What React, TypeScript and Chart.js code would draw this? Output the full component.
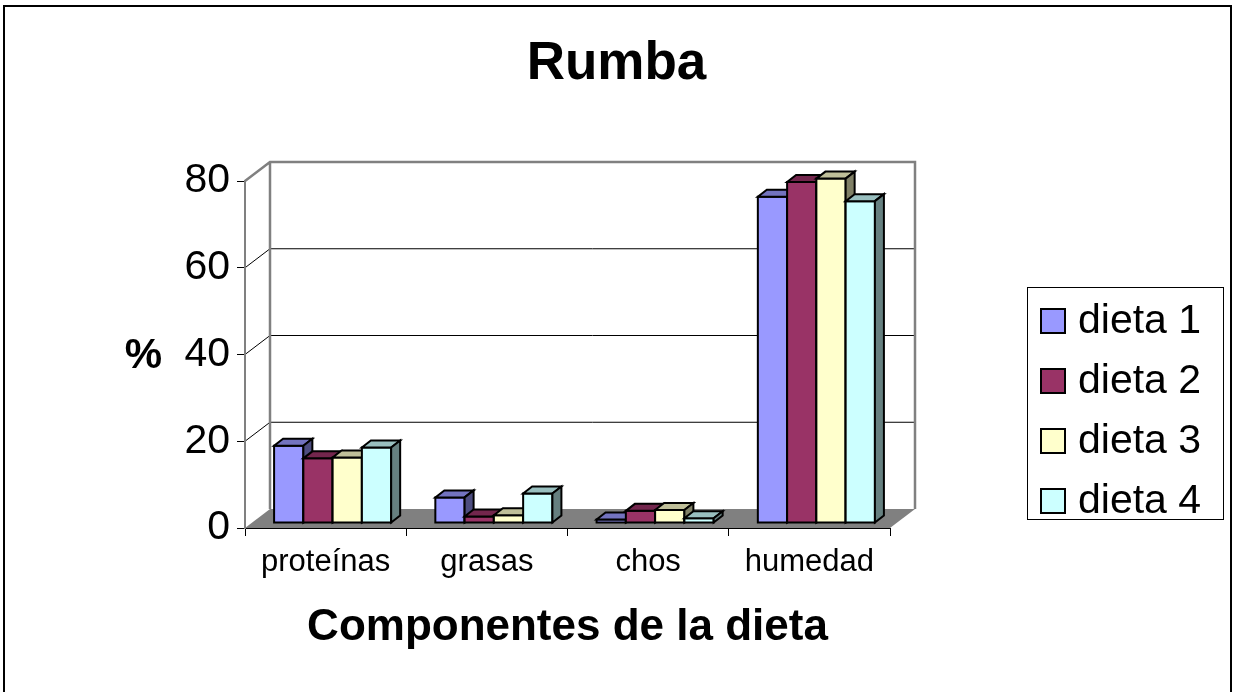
import React, { useEffect, useRef } from 'react';
import { Chart, registerables } from 'chart.js';

Chart.register(...registerables);

// ---- data ----
const categories = ['proteínas', 'grasas', 'chos', 'humedad'];
const seriesNames = ['dieta 1', 'dieta 2', 'dieta 3', 'dieta 4'];
const dieta1 = [17.8, 5.9, 0.8, 75.2];
const dieta2 = [14.9, 1.5, 2.8, 78.6];
const dieta3 = [15.1, 1.8, 3.0, 79.4];
const dieta4 = [17.4, 6.8, 1.1, 74.2];
const yTicks = [0, 20, 40, 60, 80];
const seriesColors = ['#9999FF', '#993366', '#FFFFCC', '#CCFFFF'];

// ---- layout / style ----
const W = 1233;
const H = 692;
const FONT = '"Liberation Sans", Arial, Helvetica, sans-serif';
const WALL_DX = 25;
const WALL_DY = -19;
const BAR_DX = 7;
const BAR_DY = -5;
const DEPTH_DX = 9;
const DEPTH_DY = -7;

function shade(hex: string, f: number) {
  const n = parseInt(hex.slice(1), 16);
  const r = Math.round(((n >> 16) & 255) * f);
  const g = Math.round(((n >> 8) & 255) * f);
  const b = Math.round((n & 255) * f);
  return `rgb(${r},${g},${b})`;
}

const wallsPlugin = {
  id: 'walls3d',
  beforeDraw(chart: any) {
    const { ctx, chartArea: a, scales } = chart;
    const y = scales.y;
    const L = a.left;
    const R = a.right;
    const y0 = y.getPixelForValue(yTicks[0]);
    const yTop = y.getPixelForValue(yTicks[yTicks.length - 1]);
    ctx.save();
    // floor
    ctx.fillStyle = '#808080';
    ctx.beginPath();
    ctx.moveTo(L, y0);
    ctx.lineTo(R, y0);
    ctx.lineTo(R + WALL_DX, y0 + WALL_DY);
    ctx.lineTo(L + WALL_DX, y0 + WALL_DY);
    ctx.closePath();
    ctx.fill();
    // gridlines on side & back walls
    ctx.strokeStyle = '#000';
    ctx.lineWidth = 1;
    for (let k = 1; k < yTicks.length - 1; k++) {
      const py = y.getPixelForValue(yTicks[k]);
      ctx.beginPath();
      ctx.moveTo(L, py);
      ctx.lineTo(L + WALL_DX, py + WALL_DY);
      ctx.lineTo(R + WALL_DX, py + WALL_DY);
      ctx.stroke();
    }
    // wall edges
    ctx.strokeStyle = '#808080';
    ctx.lineWidth = 2.5;
    ctx.beginPath();
    ctx.moveTo(L, yTop);
    ctx.lineTo(L + WALL_DX, yTop + WALL_DY);
    ctx.lineTo(R + WALL_DX, yTop + WALL_DY);
    ctx.lineTo(R + WALL_DX, y0 + WALL_DY);
    ctx.moveTo(L + WALL_DX, yTop + WALL_DY);
    ctx.lineTo(L + WALL_DX, y0 + WALL_DY);
    ctx.stroke();
    ctx.restore();
  },
};

const barsPlugin = {
  id: 'bars3d',
  beforeDatasetsDraw(chart: any) {
    const ctx = chart.ctx;
    ctx.save();
    ctx.translate(BAR_DX, BAR_DY);
    ctx.lineWidth = 2;
    ctx.strokeStyle = '#000';
    ctx.lineJoin = 'miter';
    const n = chart.data.labels.length;
    for (let j = 0; j < n; j++) {
      chart.data.datasets.forEach((ds: any, i: number) => {
        const meta = chart.getDatasetMeta(i);
        const el = meta.data[j];
        if (!el) return;
        const { x, y, base, width } = el.getProps(['x', 'y', 'base', 'width'], true);
        const L = x - width / 2;
        const R = x + width / 2;
        const col = ds.backgroundColor;
        // front
        ctx.fillStyle = col;
        ctx.beginPath();
        ctx.rect(L, y, R - L, base - y);
        ctx.fill();
        ctx.stroke();
        // top
        ctx.fillStyle = shade(col, 0.75);
        ctx.beginPath();
        ctx.moveTo(L, y);
        ctx.lineTo(R, y);
        ctx.lineTo(R + DEPTH_DX, y + DEPTH_DY);
        ctx.lineTo(L + DEPTH_DX, y + DEPTH_DY);
        ctx.closePath();
        ctx.fill();
        ctx.stroke();
        // side
        ctx.fillStyle = shade(col, 0.5);
        ctx.beginPath();
        ctx.moveTo(R, y);
        ctx.lineTo(R + DEPTH_DX, y + DEPTH_DY);
        ctx.lineTo(R + DEPTH_DX, base + DEPTH_DY);
        ctx.lineTo(R, base);
        ctx.closePath();
        ctx.fill();
        ctx.stroke();
      });
    }
    ctx.restore();
    return false;
  },
};

const overlayPlugin = {
  id: 'overlay',
  afterDraw(chart: any) {
    const ctx = chart.ctx;
    ctx.save();
    // y axis title (horizontal)
    ctx.fillStyle = '#000';
    ctx.font = `bold 42px ${FONT}`;
    ctx.textAlign = 'center';
    ctx.textBaseline = 'alphabetic';
    ctx.fillText('%', 143.5, 368);

    // legend
    ctx.strokeStyle = '#000';
    ctx.lineWidth = 1;
    ctx.strokeRect(1027.5, 287.5, 196, 232);
    ctx.font = `41px ${FONT}`;
    ctx.textAlign = 'left';
    ctx.textBaseline = 'middle';
    chart.data.datasets.forEach((ds: any, i: number) => {
      const cy = 321 + i * 60;
      ctx.fillStyle = ds.backgroundColor;
      ctx.fillRect(1041, cy - 12, 24, 24);
      ctx.lineWidth = 2;
      ctx.strokeStyle = '#000';
      ctx.strokeRect(1041, cy - 12, 24, 24);
      ctx.fillStyle = '#000';
      ctx.fillText(ds.label, 1078, cy + 1);
    });

    // outer chart border
    ctx.strokeStyle = '#000';
    ctx.lineWidth = 2;
    ctx.beginPath();
    ctx.moveTo(4, 700);
    ctx.lineTo(4, 6);
    ctx.lineTo(1231, 6);
    ctx.lineTo(1231, 700);
    ctx.stroke();
    ctx.restore();
  },
};

export default function App() {
  const ref = useRef<HTMLCanvasElement | null>(null);

  useEffect(() => {
    if (!ref.current) return;
    const seriesData = [dieta1, dieta2, dieta3, dieta4];
    const chart = new Chart(ref.current, {
      type: 'bar',
      data: {
        labels: categories,
        datasets: seriesNames.map((name, i) => ({
          label: name,
          data: seriesData[i],
          backgroundColor: seriesColors[i],
          borderColor: '#000',
          borderWidth: 2,
          categoryPercentage: 0.726,
          barPercentage: 1,
        })),
      },
      options: {
        animation: false,
        responsive: false,
        devicePixelRatio: 1,
        layout: { padding: { left: 0, right: 0, top: 0, bottom: 0 } },
        plugins: {
          legend: { display: false },
          tooltip: { enabled: false },
          title: {
            display: true,
            text: 'Rumba',
            color: '#000',
            font: { family: FONT, size: 53, weight: 'bold' },
            padding: { top: 33, bottom: 84.4 },
          },
        },
        scales: {
          x: {
            type: 'category',
            offset: true,
            grid: {
              offset: true,
              display: true,
              drawOnChartArea: false,
              drawTicks: true,
              tickLength: 8,
              color: '#000',
              lineWidth: 1,
            },
            border: { display: true, color: '#000', width: 1 },
            ticks: {
              color: '#000',
              font: { family: FONT, size: 31 },
              padding: 8,
              maxRotation: 0,
              autoSkip: false,
            },
            title: {
              display: true,
              text: 'Componentes de la dieta',
              color: '#000',
              font: { family: FONT, size: 44, weight: 'bold' },
              padding: { top: 0, bottom: 38 },
            },
            afterFit(s: any) {
              s.height = 164;
            },
          },
          y: {
            min: yTicks[0],
            max: yTicks[yTicks.length - 1],
            afterBuildTicks(s: any) {
              s.ticks = yTicks.map((v) => ({ value: v }));
            },
            ticks: {
              color: '#000',
              font: { family: FONT, size: 41 },
              padding: 7,
            },
            grid: {
              drawOnChartArea: false,
              drawTicks: true,
              tickLength: 8,
              color: '#000',
              lineWidth: 1,
            },
            border: { display: true, color: '#808080', width: 2 },
            afterFit(s: any) {
              s.width = 245;
            },
          },
          legendSpace: {
            type: 'linear',
            position: 'right',
            display: true,
            grid: { display: false, drawTicks: false },
            ticks: { display: false },
            border: { display: false },
            afterFit(s: any) {
              s.width = 343;
            },
          },
        },
      } as any,
      plugins: [wallsPlugin, barsPlugin, overlayPlugin] as any,
    });
    return () => chart.destroy();
  }, []);

  return (
    <div style={{ position: 'fixed', left: 0, top: 0, width: W, height: H, background: '#fff' }}>
      <canvas ref={ref} width={W} height={H} style={{ display: 'block', width: W, height: H }} />
    </div>
  );
}
